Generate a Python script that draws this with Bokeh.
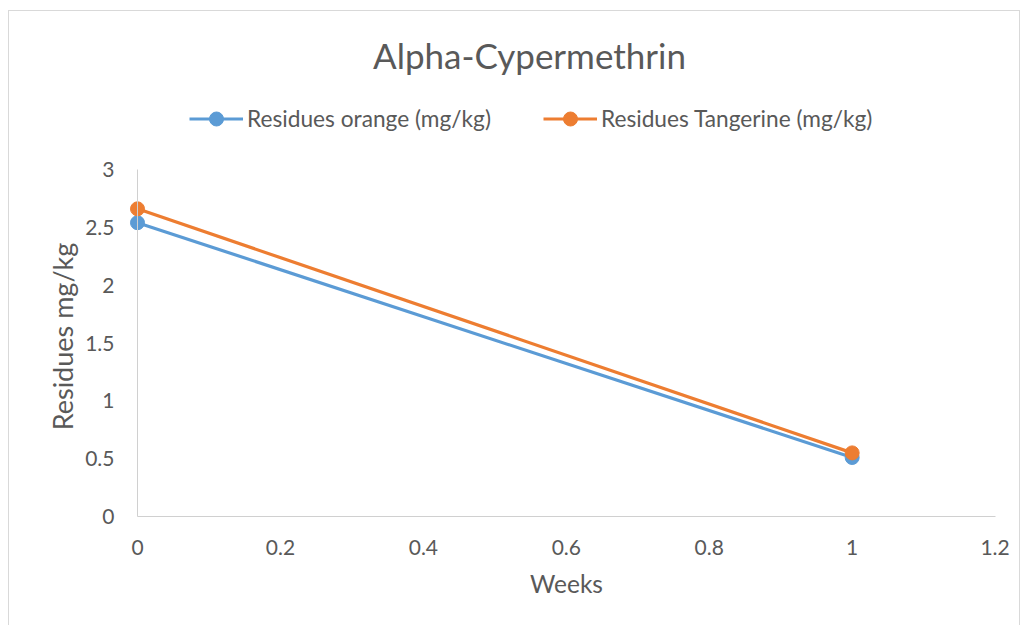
import math
from bokeh.plotting import figure
from bokeh.models import FixedTicker, NumeralTickFormatter, Legend, LegendItem, Label, Range1d
from bokeh.embed import file_html
from bokeh.resources import INLINE

weeks = [0, 1]
orange_residues = [2.54, 0.51]
tangerine_residues = [2.66, 0.55]
x_ticks = [0, 0.2, 0.4, 0.6, 0.8, 1, 1.2]
y_ticks = [0, 0.5, 1, 1.5, 2, 2.5, 3]
title_text = "Alpha-Cypermethrin"
x_title = "Weeks"
y_title = "Residues mg/kg"
series_names = ["Residues orange (mg/kg)", "Residues Tangerine (mg/kg)"]
colors = ["#5B9BD5", "#ED7D31"]

FONT = "Lato"
TXT = "#595959"

# page-pixel anchors of the plot area (x: 0 -> 137, 1.2 -> 994.6; y: 0 -> 516, 3 -> 169)
W, H = 1012, 615
CX0, CY0 = 9, 11          # canvas origin on the page
px_per_x = (994.6 - 137) / 1.2
px_per_y = (516 - 169) / 3.0
def xd(px): return (px - 137) / px_per_x
def yd(py): return (516 - py) / px_per_y

p = figure(width=W, height=H, output_backend="svg", toolbar_location=None,
           x_range=Range1d(xd(CX0), xd(CX0 + W)), y_range=Range1d(yd(CY0 + H), yd(CY0)),
           min_border=0, min_border_left=0, min_border_right=0, min_border_top=0, min_border_bottom=0)
p.styles = {"border-left": "1px solid #d9d9d9", "border-top": "1px solid #d9d9d9",
            "border-right": "1px solid #d9d9d9", "margin-top": "10px", "margin-left": "8px"}
p.outline_line_color = None
p.xgrid.visible = False
p.ygrid.visible = False

for ax in (p.xaxis[0], p.yaxis[0]):
    ax.fixed_location = 0
    ax.axis_line_color = "#d0d0d0"
    ax.axis_line_width = 1
    ax.major_tick_line_color = None
    ax.minor_tick_line_color = None
    ax.major_label_text_font = FONT
    ax.major_label_text_font_size = "21px"
    ax.major_label_text_color = TXT
    ax.formatter = NumeralTickFormatter(format="0.[0]")

p.xaxis.ticker = FixedTicker(ticks=x_ticks)
p.yaxis.ticker = FixedTicker(ticks=y_ticks)
p.xaxis.bounds = (x_ticks[0], x_ticks[-1])
p.yaxis.bounds = (y_ticks[0], y_ticks[-1])
p.xaxis.major_label_standoff = 17
p.yaxis.major_label_standoff = 17

items = []
for name, ys, c in zip(series_names, [orange_residues, tangerine_residues], colors):
    l = p.line(weeks, ys, line_color=c, line_width=3.2)
    s = p.scatter(weeks, ys, size=14, fill_color=c, line_color=c)
    items.append(LegendItem(label=name, renderers=[l, s]))

legend = Legend(items=items, orientation="horizontal", location=(189 - CX0, CY0 + H - 135.5),
                border_line_color=None, background_fill_alpha=0, padding=0, margin=0,
                spacing=52, label_standoff=4, glyph_width=54, glyph_height=35,
                label_text_font=FONT, label_text_font_size="22.7px", label_text_color=TXT)
p.add_layout(legend, "center")

p.add_layout(Label(x=xd(529), y=yd(54), text=title_text, text_align="center", text_baseline="middle",
                   text_font=FONT, text_font_size="35px", text_color=TXT))
p.add_layout(Label(x=xd(566), y=yd(583), text=x_title, text_align="center", text_baseline="middle",
                   text_font=FONT, text_font_size="24.5px", text_color=TXT))
p.add_layout(Label(x=xd(62), y=yd(336), text=y_title, text_align="center", text_baseline="middle",
                   angle=math.pi / 2, text_font=FONT, text_font_size="27px", text_color=TXT))

open("out.html", "w").write(file_html(p, INLINE))
